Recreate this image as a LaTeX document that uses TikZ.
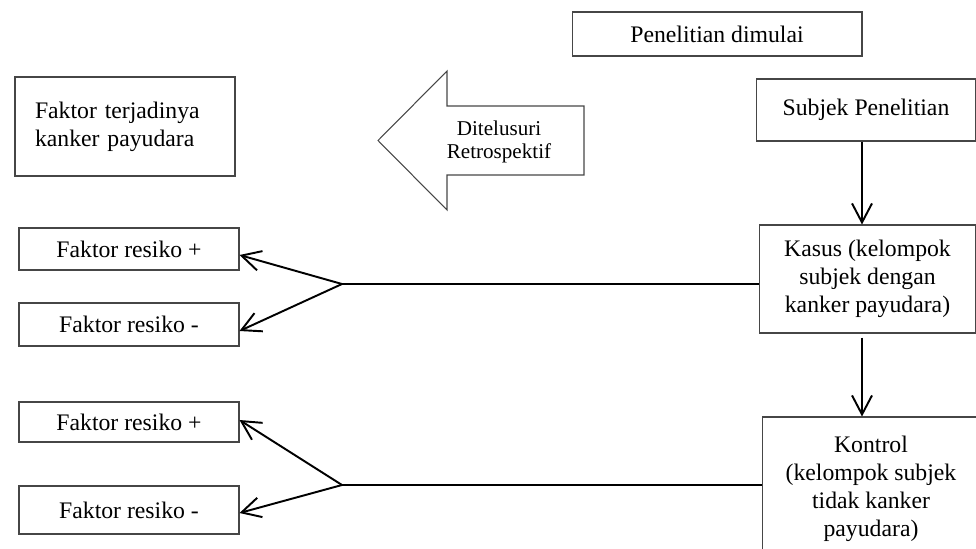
\documentclass[tikz,border=0pt]{standalone}
\usepackage{fontspec}
\setmainfont{Liberation Serif}
\usetikzlibrary{positioning, arrows.meta}
\definecolor{kotakgrey}{RGB}{70,70,70}

\begin{document}
\begin{tikzpicture}[x=0.02cm, y=-0.02cm,
        kotak/.style={draw=kotakgrey, line width=0.6pt, inner sep=0pt, align=center, font=\fontsize{13.5}{16}\selectfont},
        panah/.style={line width=1.1pt, -{Straight Barb[length=0.38cm, width=0.4cm]}},
        garis/.style={line width=1.1pt}]
        \useasboundingbox (0,0) rectangle (976,548);

        % top boxes
        \node[kotak, minimum width=5.8cm, minimum height=0.88cm] (mulai) at (717,34) {Penelitian dimulai};
        \node[kotak, minimum width=4.4cm, minimum height=1.24cm] (subjek) at (866,110) {Subjek Penelitian};
        \node[kotak, align=left, text width=3.6cm, inner xsep=0.4cm, minimum height=1.98cm] (faktor) at (125,126.5) {Faktor terjadinya\\kanker payudara};

        % retrospective arrow
        \draw[draw=kotakgrey, line width=0.6pt] (584,106) -- (447,106) -- (447,71) -- (378,140.5)
            -- (447,210) -- (447,175) -- (584,175) -- cycle;
        \node[align=center, font=\fontsize{12}{13.5}\selectfont] (telusur) at (499,142) {Ditelusuri\\Retrospektif};

        % groups
        \node[kotak, minimum width=4.34cm, minimum height=2.16cm] (kasus) at (867.5,279) {Kasus (kelompok\\subjek dengan\\kanker payudara)};
        \node[kotak, minimum width=4.36cm, minimum height=2.86cm] (kontrol) at (871,488.5) {Kontrol\\(kelompok subjek\\tidak kanker\\payudara)};

        % risk factor boxes
        \foreach \nama/\y/\h/\teks in {rp1/249/0.84/{Faktor resiko +}, rm1/324.5/0.86/{Faktor resiko -},
                                       rp2/422/0.8/{Faktor resiko +}, rm2/510/0.96/{Faktor resiko -}}
        {
            \node[kotak, minimum width=4.4cm, minimum height=\h cm] (\nama) at (129,\y) {\teks};
        }

        % vertical flow
        \coordinate (sumbu) at (862,0);
        \draw[panah] (subjek.south -| sumbu) -- (kasus.north -| sumbu);
        \draw[panah, shorten <=0.08cm] (kasus.south -| sumbu) -- (kontrol.north -| sumbu);

        % traced back
        \coordinate (cabang1) at (342,284);
        \coordinate (cabang2) at (342,485);
        \draw[garis] (kasus.west |- cabang1) -- (cabang1);
        \draw[panah] (cabang1) -- ([yshift=-0.12cm]rp1.east);
        \draw[panah] (cabang1) -- ([yshift=-0.13cm]rm1.east);
        \draw[garis] (kontrol.west |- cabang2) -- (cabang2);
        \draw[panah] (cabang2) -- ([yshift=0.04cm]rp2.east);
        \draw[panah] (cabang2) -- ([yshift=-0.06cm]rm2.east);
\end{tikzpicture}
\end{document}
